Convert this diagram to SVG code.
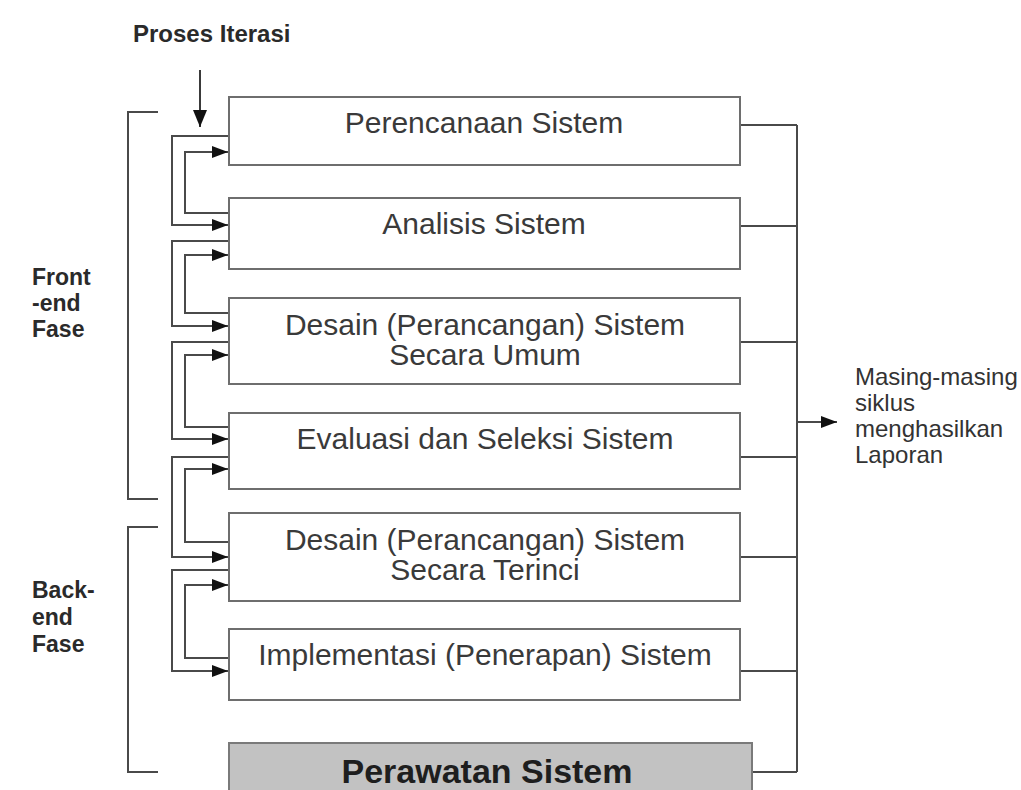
<svg xmlns="http://www.w3.org/2000/svg" width="1021" height="790" viewBox="0 0 1021 790">
<defs>
<style>
.box{fill:#ffffff;stroke:#6e6e6e;stroke-width:2}
.gray{fill:#c2c2c2;stroke:#7a7a7a;stroke-width:2}
.bt{font-family:"Liberation Sans",Arial,sans-serif;font-size:30px;fill:#3a3a3a;text-anchor:middle}
.bb{font-family:"Liberation Sans",Arial,sans-serif;font-size:34px;font-weight:bold;fill:#1e1e1e;text-anchor:middle}
.lb{font-family:"Liberation Sans",Arial,sans-serif;font-size:23px;font-weight:bold;fill:#2a2a2a}
.lr{font-family:"Liberation Sans",Arial,sans-serif;font-size:24px;fill:#333333}
.c{fill:none;stroke:#4a4a4a;stroke-width:2}
.ca{fill:none;stroke:#4a4a4a;stroke-width:2;marker-end:url(#ah)}
.cd{fill:none;stroke:#3a3a3a;stroke-width:2;marker-end:url(#ahd)}
</style>
<marker id="ah" markerWidth="16" markerHeight="12" refX="16" refY="6" orient="auto" markerUnits="userSpaceOnUse"><path d="M0,0 L16,6 L0,12 z" fill="#111"/></marker>
<marker id="ahd" markerWidth="17" markerHeight="14" refX="17" refY="7" orient="auto" markerUnits="userSpaceOnUse"><path d="M0,0 L17,7 L0,14 z" fill="#111"/></marker>
</defs>
<rect width="1021" height="790" fill="#ffffff"/>

<g id="label-proses"><text class="lb" x="133" y="42" style="font-size:24px">Proses Iterasi</text></g>
<g id="label-front">
<path class="c" d="M158,112 H128 V499 H158"/>
<text class="lb" x="32" y="285">Front</text>
<text class="lb" x="32" y="311">-end</text>
<text class="lb" x="32" y="337">Fase</text>
</g>
<g id="label-back">
<path class="c" d="M158,527 H128 V772 H158"/>
<text class="lb" x="32" y="598">Back-</text>
<text class="lb" x="32" y="625">end</text>
<text class="lb" x="32" y="652">Fase</text>
</g>

<g id="connectors">
<path class="cd" d="M200,70 V127"/>
<path class="ca" d="M229,136 H172 V225 H228"/>
<path class="ca" d="M229,213 H185 V152 H228"/>
<path class="ca" d="M229,241 H172 V326 H228"/>
<path class="ca" d="M229,313 H185 V255 H228"/>
<path class="ca" d="M229,342 H172 V439 H228"/>
<path class="ca" d="M229,427 H185 V355 H228"/>
<path class="ca" d="M229,457 H172 V557 H228"/>
<path class="ca" d="M229,542 H185 V469 H228"/>
<path class="ca" d="M229,570 H172 V671 H228"/>
<path class="ca" d="M229,658 H185 V585 H228"/>
<path class="c" d="M740,125 H797 M740,226 H797 M740,342 H797 M740,457 H797 M740,557 H797 M740,671 H797 M752,772 H797 M797,125 V772"/>
<path class="ca" d="M797,422 H837"/>
</g>

<g id="node-perencanaan"><rect class="box" x="229" y="97" width="511" height="68"/><text class="bt" x="484" y="133">Perencanaan Sistem</text></g>
<g id="node-analisis"><rect class="box" x="229" y="198" width="511" height="71"/><text class="bt" x="484" y="234">Analisis Sistem</text></g>
<g id="node-desain-umum"><rect class="box" x="229" y="298" width="511" height="86"/><text class="bt" x="485" y="335">Desain (Perancangan) Sistem</text><text class="bt" x="485" y="365">Secara Umum</text></g>
<g id="node-evaluasi"><rect class="box" x="229" y="413" width="511" height="76"/><text class="bt" x="485" y="449">Evaluasi dan Seleksi Sistem</text></g>
<g id="node-desain-terinci"><rect class="box" x="229" y="513" width="511" height="88"/><text class="bt" x="485" y="550">Desain (Perancangan) Sistem</text><text class="bt" x="485" y="580">Secara Terinci</text></g>
<g id="node-implementasi"><rect class="box" x="229" y="629" width="511" height="71"/><text class="bt" x="485" y="665">Implementasi (Penerapan) Sistem</text></g>
<g id="node-perawatan"><rect class="gray" x="229" y="743" width="523" height="60"/><text class="bb" x="487" y="783">Perawatan Sistem</text></g>

<g id="label-laporan">
<text class="lr" x="855" y="385">Masing-masing</text>
<text class="lr" x="855" y="411">siklus</text>
<text class="lr" x="855" y="437">menghasilkan</text>
<text class="lr" x="855" y="463">Laporan</text>
</g>
</svg>
